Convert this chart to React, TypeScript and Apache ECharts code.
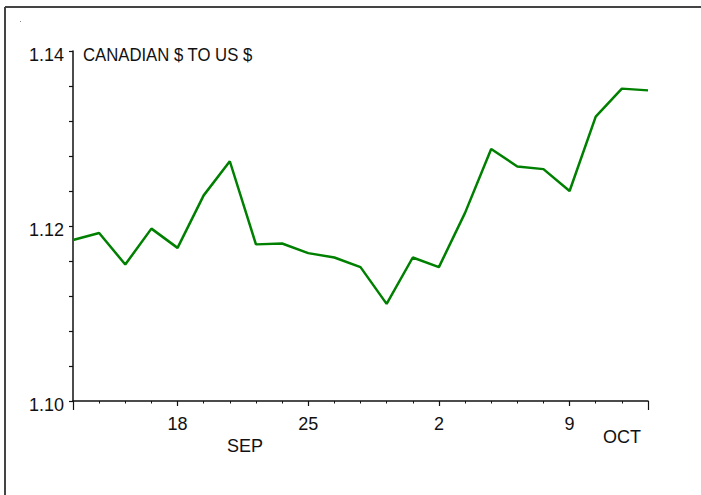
import React, { useEffect, useRef } from "react";
import * as echarts from "echarts";

const dates = [
  "Sep 12", "Sep 13", "Sep 14", "Sep 15",
  "Sep 18", "Sep 19", "Sep 20", "Sep 21", "Sep 22",
  "Sep 25", "Sep 26", "Sep 27", "Sep 28", "Sep 29",
  "Oct 2", "Oct 3", "Oct 4", "Oct 5", "Oct 6",
  "Oct 9", "Oct 10", "Oct 11", "Oct 12",
];
const rates = [
  1.1184, 1.1192, 1.1156, 1.1197,
  1.1175, 1.1235, 1.1274, 1.1179, 1.1180,
  1.1169, 1.1164, 1.1153, 1.1111, 1.1164,
  1.1153, 1.1215, 1.1288, 1.1268, 1.1265,
  1.1240, 1.1325, 1.1357, 1.1355,
];
const labelledDates = ["Sep 18", "Sep 25", "Oct 2", "Oct 9"];
const endDates = ["Sep 12", "Oct 12"];
const monthLabels = ["SEP", "OCT"];
const yTicks = { min: 1.1, max: 1.14, interval: 0.02 };
const title = "CANADIAN $ TO US $";

const FONT = "'Liberation Sans Narrow', 'Arial Narrow', 'Liberation Sans', sans-serif";

export default function App() {
  const ref = useRef<HTMLDivElement>(null);
  useEffect(() => {
    document.body.style.margin = "0";
    const chart = echarts.init(ref.current!, null, { renderer: "svg" });
    const baseX = {
      type: "category",
      data: dates,
      boundaryGap: false,
      position: "bottom",
      offset: 0,
      splitLine: { show: false },
    };
    chart.setOption({
      animation: false,
      backgroundColor: "#ffffff",
      grid: { left: 73, right: 53, top: 51, bottom: 94, containLabel: false },
      xAxis: [
        {
          ...baseX,
          axisLine: { show: true, lineStyle: { color: "#111", width: 1.5 } },
          axisTick: {
            show: true,
            length: 5,
            lineStyle: { color: "#111", width: 1.2 },
            interval: (i: number, v: string) => labelledDates.includes(v),
          },
          axisLabel: {
            show: true,
            interval: 0,
            margin: 14,
            fontFamily: FONT,
            fontSize: 18,
            color: "#111",
            formatter: (v: string) => (labelledDates.includes(v) ? v.split(" ")[1] : ""),
          },
        },
        {
          ...baseX,
          axisLine: { show: false },
          axisTick: { show: true, length: 2.5, interval: 0, lineStyle: { color: "#111", width: 1 } },
          axisLabel: { show: false },
        },
        {
          ...baseX,
          axisLine: { show: false },
          axisTick: {
            show: true,
            length: 9,
            lineStyle: { color: "#111", width: 1.2 },
            interval: (i: number, v: string) => endDates.includes(v),
          },
          axisLabel: { show: false },
        },
      ],
      yAxis: {
        type: "value",
        min: yTicks.min,
        max: yTicks.max,
        interval: yTicks.interval,
        axisLine: { show: true, lineStyle: { color: "#111", width: 1.5 } },
        axisTick: { show: true, length: 4, lineStyle: { color: "#111", width: 1.2 } },
        minorTick: { show: true, splitNumber: 5, length: 4, lineStyle: { color: "#111", width: 1.2 } },
        splitLine: { show: false },
        minorSplitLine: { show: false },
        axisLabel: {
          margin: 9,
          fontFamily: FONT,
          fontSize: 18,
          color: "#111",
          verticalAlign: "top",
          lineHeight: 8,
          formatter: (v: number) => v.toFixed(2),
        },
      },
      series: [
        {
          type: "line",
          data: rates,
          xAxisIndex: 0,
          symbol: "none",
          lineStyle: { color: "#008000", width: 2.5 },
          itemStyle: { color: "#008000" },
        },
      ],
      graphic: [
        { type: "line", shape: { x1: 5, y1: 7, x2: 5, y2: 495 }, style: { stroke: "#444", lineWidth: 2 } },
        { type: "line", shape: { x1: 5, y1: 7, x2: 701, y2: 7 }, style: { stroke: "#444", lineWidth: 2 } },
        { type: "rect", shape: { x: 20, y: 21, width: 1, height: 1 }, style: { fill: "#888" } },
        {
          type: "text",
          x: 83,
          y: 55,
          scaleX: 0.88,
          style: { text: title, x: 0, y: 0, font: "19px 'Liberation Sans'", fill: "#111", verticalAlign: "middle", align: "left" },
        },
        {
          type: "text",
          x: 245,
          y: 446,
          style: { text: monthLabels[0], font: `18px ${FONT}`, fill: "#111", verticalAlign: "middle", align: "center" },
        },
        {
          type: "text",
          x: 622,
          y: 437,
          style: { text: monthLabels[1], font: `18px ${FONT}`, fill: "#111", verticalAlign: "middle", align: "center" },
        },
      ],
    });
    return () => chart.dispose();
  }, []);
  return (
    <div
      ref={ref}
      style={{ position: "fixed", left: 0, top: 0, width: 701, height: 495 }}
    />
  );
}
